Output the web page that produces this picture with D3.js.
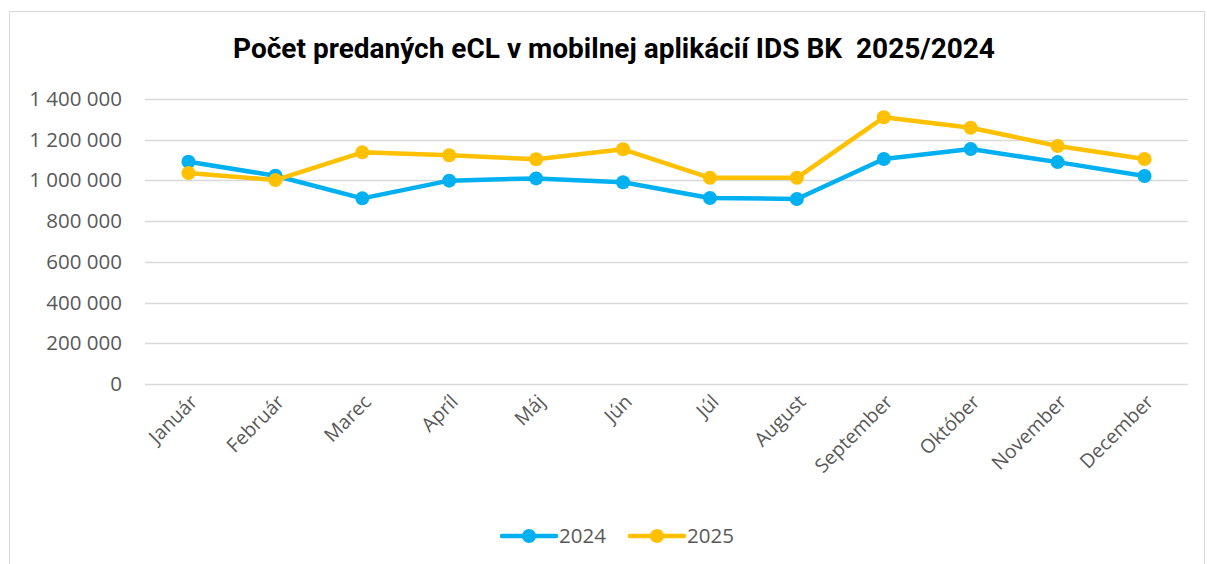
<!DOCTYPE html>
<html>
<head>
<meta charset="utf-8">
<script src="https://cdn.jsdelivr.net/npm/d3@7"></script>
<style>
  body { margin: 0; background: #fff; }
</style>
</head>
<body>
<div id="chart"></div>
<script>
// data
const months = ["Január", "Február", "Marec", "Apríl", "Máj", "Jún", "Júl", "August", "September", "Október", "November", "December"];
const values2024 = [1092000, 1023000, 912000, 999000, 1010000, 991000, 914000, 909000, 1105000, 1154000, 1090000, 1022000];
const values2025 = [1036000, 1002000, 1138000, 1124000, 1104000, 1153000, 1013000, 1013000, 1310000, 1259000, 1169000, 1105000];
const yTicks = [0, 200000, 400000, 600000, 800000, 1000000, 1200000, 1400000];
const seriesNames = ["2024", "2025"];
const colors = ["#00b0f0", "#ffc000"];

const W = 1207, H = 564;
const margin = {top: 99, right: 19, bottom: 180, left: 145};
const width = W - margin.left - margin.right,
    height = H - margin.top - margin.bottom;

const svg = d3.select("#chart").append("svg")
    .attr("width", W).attr("height", H);

// outer chart border
svg.append("rect")
    .attr("x", 9.5).attr("y", 11.5)
    .attr("width", 1195).attr("height", 560)
    .attr("fill", "#fff").attr("stroke", "#d9d9d9");

svg.append("text")
    .attr("x", 614).attr("y", 58)
    .attr("text-anchor", "middle")
    .style("font", "bold 28px Roboto")
    .style("white-space", "pre")
    .attr("fill", "#000")
    .text("Počet predaných eCL v mobilnej aplikácií IDS BK  2025/2024");

const g = svg.append("g").attr("transform", `translate(${margin.left},${margin.top})`);

const x = d3.scaleBand().domain(months).range([0, width]);
const y = d3.scaleLinear().domain([0, 1400000]).range([height, 0]);

const fmt = (d) => d3.format(",")(d).replace(/,/g, " ");

// gridlines
g.append("g")
    .selectAll("line")
    .data(yTicks)
    .join("line")
    .attr("x1", 0).attr("x2", width)
    .attr("y1", (d) => Math.round(y(d)) + 0.5)
    .attr("y2", (d) => Math.round(y(d)) + 0.5)
    .attr("stroke", "#d9d9d9").attr("stroke-width", 1.5);

// y axis labels
const yAxis = g.append("g")
    .call(d3.axisLeft(y).tickValues(yTicks).tickFormat(fmt).tickSize(0).tickPadding(23));
yAxis.select(".domain").remove();
yAxis.selectAll("text")
    .style("font", "20.5px 'Open Sans'")
    .attr("fill", "#595959");

// x axis labels
const xAxis = g.append("g")
    .attr("transform", `translate(0,${height})`)
    .call(d3.axisBottom(x).tickSize(0));
xAxis.select(".domain").remove();
xAxis.selectAll("text")
    .style("font", "19.5px 'Open Sans'")
    .attr("fill", "#595959")
    .attr("text-anchor", "end")
    .attr("dy", 0)
    .attr("transform", "translate(8,17) rotate(-45)");

const cx = (i) => x(months[i]) + x.bandwidth() / 2;
const line = d3.line().x((d, i) => cx(i)).y((d) => y(d));

[values2024, values2025].forEach((vals, s) => {
    g.append("path")
        .datum(vals)
        .attr("d", line)
        .attr("fill", "none")
        .attr("stroke", colors[s])
        .attr("stroke-width", 4.5)
        .attr("stroke-linejoin", "round");
    g.append("g")
        .selectAll("circle")
        .data(vals)
        .join("circle")
        .attr("cx", (d, i) => cx(i))
        .attr("cy", (d) => y(d))
        .attr("r", 7)
        .attr("fill", colors[s]);
});

// legend
const legend = svg.append("g").attr("transform", "translate(0,536)");
const legX = [502, 630];
seriesNames.forEach((name, s) => {
    const lg = legend.append("g").attr("transform", `translate(${legX[s]},0)`);
    lg.append("line")
        .attr("x1", 0).attr("x2", 54)
        .attr("stroke", colors[s]).attr("stroke-width", 4.5)
        .attr("stroke-linecap", "round");
    lg.append("circle").attr("cx", 27).attr("r", 7).attr("fill", colors[s]);
    lg.append("text")
        .attr("x", 57).attr("y", 7)
        .style("font", "20.5px 'Open Sans'")
        .attr("fill", "#595959")
        .text(name);
});
</script>
</body>
</html>
